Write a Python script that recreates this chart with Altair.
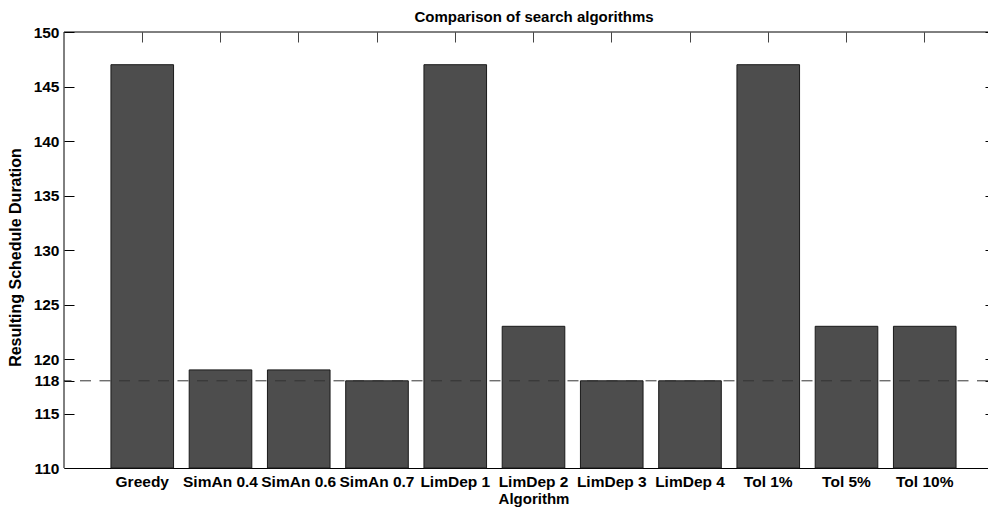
import altair as alt
import pandas as pd

algorithms = ["Greedy", "SimAn 0.4", "SimAn 0.6", "SimAn 0.7", "LimDep 1", "LimDep 2",
              "LimDep 3", "LimDep 4", "Tol 1%", "Tol 5%", "Tol 10%"]
durations = [147, 119, 119, 118, 147, 123, 118, 118, 147, 123, 123]
y_ticks = [110, 115, 118, 120, 125, 130, 135, 140, 145, 150]
reference_value = 118
y_min, y_max = 110, 150

df = pd.DataFrame({"Algorithm": algorithms, "Duration": durations})
one = pd.DataFrame({"k": [0]})

W, H = 924, 436
FONT = "Liberation Sans"

xscale = alt.Scale(domain=algorithms, range=[0, 939], paddingInner=0.2, paddingOuter=0.6)
yscale = alt.Scale(domain=[y_min, y_max], nice=False, zero=False)

bars = alt.Chart(df).mark_bar(color="#4d4d4d", stroke="#1a1a1a", strokeWidth=1).encode(
    x=alt.X("Algorithm:N", sort=algorithms, scale=xscale,
            axis=alt.Axis(orient="bottom", title="Algorithm", labelAngle=0, ticks=False, tickSize=0,
                          domain=True, domainColor="#000000", labelPadding=6, titlePadding=2,
                          labelFontSize=15.5, labelFontWeight="bold", titleFontSize=15,
                          titleFontWeight="bold", labelColor="#000000", titleColor="#000000",
                          grid=False, labelOverlap=False, labelFont=FONT, titleFont=FONT)),
    y=alt.Y("Duration:Q", scale=yscale,
            axis=alt.Axis(orient="left", values=y_ticks, offset=-10, tickSize=10, domain=False,
                          tickColor="#000000", labelPadding=5, title="Resulting Schedule Duration",
                          titlePadding=10, titleY=225, labelFontSize=15.5, labelFontWeight="bold",
                          titleFontSize=16, titleFontWeight="bold", labelColor="#000000",
                          titleColor="#000000", grid=False, labelOverlap=False,
                          labelFont=FONT, titleFont=FONT)),
    y2=alt.datum(y_min),
)

ghost = alt.Chart(df).mark_bar(opacity=0).encode(
    x=alt.X("Algorithm:N", sort=algorithms, scale=xscale,
            axis=alt.Axis(orient="top", labels=False, title=None, offset=-10, tickSize=10,
                          domain=False, tickColor="#444444", grid=False)),
    y=alt.Y("Duration:Q", scale=yscale,
            axis=alt.Axis(orient="right", values=y_ticks, labels=False, title=None, offset=-3,
                          tickSize=3, domain=False, tickColor="#000000", grid=False)),
    y2=alt.datum(y_min),
)

ref_line = alt.Chart(one).mark_rule(color="#333333", strokeWidth=1, strokeDash=[11, 8.5]).encode(
    y=alt.datum(reference_value, scale=yscale, axis=None)
)

left_line = alt.Chart(one).mark_rule(color="#000000", strokeWidth=1).encode(
    x=alt.value(0), y=alt.value(0), y2=alt.value(H)
)
top_line = alt.Chart(one).mark_rule(color="#000000", strokeWidth=1).encode(
    x=alt.value(0), x2=alt.value(W), y=alt.value(0)
)

chart = alt.layer(bars, ghost, ref_line, left_line, top_line).resolve_axis(
    x="independent", y="independent"
).properties(
    width=W, height=H,
    autosize=alt.AutoSizeParams(type="none"),
    padding={"left": 56, "top": 24, "right": 0, "bottom": 39},
    title=alt.TitleParams("Comparison of search algorithms", fontSize=15, fontWeight="bold",
                          font=FONT, color="#000000", dx=8, offset=0, frame="group"),
    background="white",
).configure_view(strokeWidth=0)

chart.save("out.html", embed_options={"renderer": "svg", "actions": False})
